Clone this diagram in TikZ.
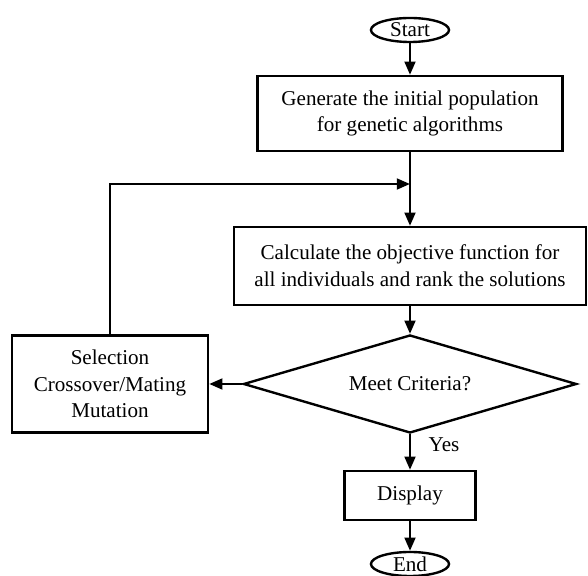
\documentclass[tikz,border=0pt]{standalone}
\usepackage{fontspec}
\setmainfont{Liberation Serif}
\usetikzlibrary{shapes.geometric,arrows.meta}
\begin{document}
\begin{tikzpicture}[x=0.025cm,y=-0.025cm,font=\fontsize{15}{19}\selectfont,
  box/.style={draw,rectangle,line width=1.7pt,align=center,inner sep=0pt},
  term/.style={draw,ellipse,line width=1.7pt,inner sep=0pt,minimum width=1.95cm,minimum height=0.6cm},
  arr/.style={line width=1.7pt,-{Triangle[length=3.3mm,width=2.7mm]}}]
            \useasboundingbox (0,0) rectangle (588,576);
            \node[term] (start) at (410,30) {Start};
            \node[box,minimum width=7.625cm,minimum height=1.875cm] (init) at (410,113.5) {Generate the initial population\\for genetic algorithms};
            \coordinate (join) at (410,184);
            \node[box,minimum width=8.8cm,minimum height=1.95cm] (calc) at (410,266) {Calculate the objective function for\\all individuals and rank the solutions};
            \node[draw,diamond,aspect=3.4,line width=1.7pt,inner sep=0pt,minimum width=8.325cm,minimum height=2.45cm] (crit) at (410,384) {Meet Criteria?};
            \node[box,minimum width=4.9cm,minimum height=2.425cm] (ops) at (110,384) {Selection\\Crossover/Mating\\Mutation};
            \node[box,minimum width=3.275cm,minimum height=1.225cm] (disp) at (410,495.5) {Display};
            \node[term] (end) at (410,564) {End};
            \node (yes) at (444,445) {Yes};
            \draw[arr] (start) -- (init);
            \draw[line width=1.7pt] (init) -- (join);
            \draw[arr] (join) -- (calc);
            \draw[arr] (calc) -- (crit);
            \draw[arr] (crit) -- (ops);
            \draw[arr] (ops.north) |- (join);
            \draw[arr] (crit) -- (disp);
            \draw[arr] (disp) -- (end);
        \end{tikzpicture}
\end{document}
